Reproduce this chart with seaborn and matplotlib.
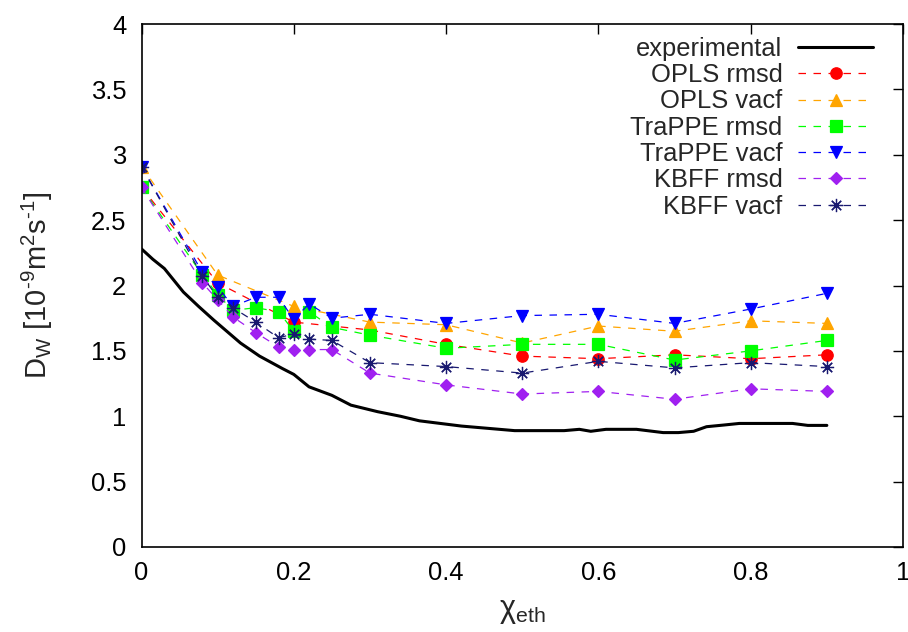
import matplotlib
matplotlib.use("Agg")
import pandas as pd
import matplotlib.pyplot as plt
import seaborn as sns

# experimental curve
exp_x = [0.0, 0.015, 0.03, 0.055, 0.075, 0.095, 0.11, 0.13, 0.155, 0.185, 0.2, 0.22, 0.25, 0.275,
         0.31, 0.34, 0.365, 0.42, 0.49, 0.555, 0.575, 0.59, 0.61, 0.65, 0.685, 0.705,
         0.725, 0.742, 0.765, 0.785, 0.855, 0.875, 0.9]
exp_y = [2.28, 2.2, 2.13, 1.95, 1.84, 1.735, 1.66, 1.56, 1.46, 1.365, 1.32, 1.225, 1.16, 1.085,
         1.035, 1.0, 0.965, 0.925, 0.89, 0.89, 0.9, 0.885, 0.9, 0.9, 0.875, 0.875,
         0.885, 0.92, 0.933, 0.945, 0.945, 0.93, 0.93]

# simulation points
x_opls = [0, 0.1, 0.2, 0.3, 0.4, 0.5, 0.6, 0.7, 0.8, 0.9]
x_ff = [0, 0.08, 0.1, 0.12, 0.15, 0.18, 0.2, 0.22, 0.25, 0.3, 0.4, 0.5, 0.6, 0.7, 0.8, 0.9]

opls_rmsd = [2.75, 2.02, 1.72, 1.66, 1.55, 1.46, 1.44, 1.47, 1.44, 1.47]
opls_vacf = [2.91, 2.08, 1.84, 1.72, 1.70, 1.56, 1.69, 1.65, 1.73, 1.71]
trappe_rmsd = [2.75, 2.08, 1.93, 1.81, 1.83, 1.80, 1.65, 1.80, 1.68, 1.62,
               1.52, 1.55, 1.55, 1.43, 1.50, 1.58]
trappe_vacf = [2.91, 2.10, 1.99, 1.84, 1.91, 1.91, 1.74, 1.86, 1.75, 1.78,
               1.71, 1.77, 1.78, 1.71, 1.82, 1.94]
kbff_rmsd = [2.75, 2.02, 1.89, 1.76, 1.64, 1.53, 1.51, 1.51, 1.51, 1.33,
             1.24, 1.17, 1.19, 1.13, 1.21, 1.19]
kbff_vacf = [2.91, 2.07, 1.91, 1.83, 1.72, 1.60, 1.63, 1.59, 1.58, 1.41,
             1.38, 1.33, 1.42, 1.37, 1.41, 1.38]

xticks = [0, 0.2, 0.4, 0.6, 0.8, 1]
xtick_labels = ["0", "0.2", "0.4", "0.6", "0.8", "1"]
yticks = [0, 0.5, 1, 1.5, 2, 2.5, 3, 3.5, 4]
ytick_labels = ["0", "0.5", "1", "1.5", "2", "2.5", "3", "3.5", "4"]

sns.set_style("white")
plt.rcParams["font.family"] = ["Liberation Sans", "DejaVu Sans"]
plt.rcParams["mathtext.fontset"] = "custom"
plt.rcParams["mathtext.rm"] = "Liberation Sans"
plt.rcParams["mathtext.it"] = "Liberation Sans:italic"

fig = plt.figure(figsize=(9.08, 6.32), dpi=100)
ax = fig.add_axes([141.5 / 908, 1 - 547 / 632, (903 - 141.5) / 908, (547 - 24) / 632])

sns.lineplot(x=exp_x, y=exp_y, ax=ax, color="black", linewidth=2.2, label="experimental")

series = [
    ("OPLS rmsd", x_opls, opls_rmsd, "#ff0000", "o", 8.2),
    ("OPLS vacf", x_opls, opls_vacf, "#ffa500", "^", 8.5),
    ("TraPPE rmsd", x_ff, trappe_rmsd, "#00ff00", "s", 8.0),
    ("TraPPE vacf", x_ff, trappe_vacf, "#0000ff", "v", 8.5),
    ("KBFF rmsd", x_ff, kbff_rmsd, "#a020f0", "D", 5.8),
    ("KBFF vacf", x_ff, kbff_vacf, "#191970", (8, 2, 0), 9.5),
]
for name, xs, ys, col, mk, ms in series:
    df = pd.DataFrame({"x": xs, "y": ys})
    sns.lineplot(data=df, x="x", y="y", ax=ax, color=col, marker=mk, markersize=ms,
                 markeredgecolor=col, markeredgewidth=0.9, linewidth=0.9,
                 linestyle=(0, (6, 6)), label=name)

ax.set_xlim(0, 1)
ax.set_ylim(0, 4)
ax.set_xticks(xticks, xtick_labels)
ax.set_yticks(yticks, ytick_labels)
ax.tick_params(direction="in", length=7, width=1.0, top=True, right=True,
               labelsize=18.4, colors="black")
ax.tick_params(axis="x", pad=10)
ax.tick_params(axis="y", pad=11)
for s in ax.spines.values():
    s.set_visible(True)
    s.set_linewidth(1.2)
    s.set_color("black")

ax.set_xlabel("χ$_\\mathrm{eth}$", fontsize=22, labelpad=8)
ax.set_ylabel("D$_\\mathrm{W}$ [10$^{\\mathrm{‐9}}$m$^{2}$s$^{\\mathrm{‐1}}$]",
              fontsize=21, labelpad=26)

ax.legend(loc="upper right", bbox_to_anchor=(0.9606, 0.9754), frameon=False,
          markerfirst=False, fontsize=18.4, handlelength=2.92, handletextpad=0.62,
          labelspacing=0.09, borderpad=0, borderaxespad=0, numpoints=1)

fig.savefig("out.png", dpi=100)
